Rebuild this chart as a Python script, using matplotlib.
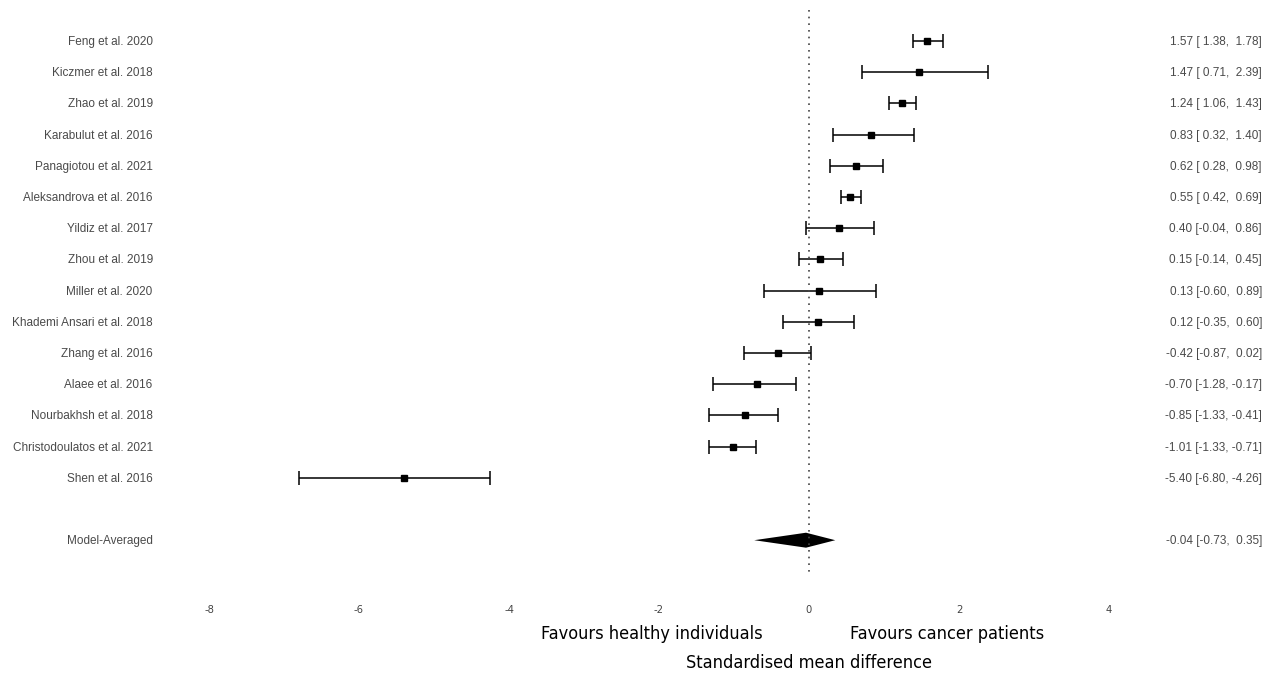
import matplotlib.pyplot as plt
import matplotlib.transforms as mtransforms
import numpy as np

# study-level estimates (standardised mean difference, 95% CI)
studies = ['Feng et al. 2020', 'Kiczmer et al. 2018', 'Zhao et al. 2019',
           'Karabulut et al. 2016', 'Panagiotou et al. 2021', 'Aleksandrova et al. 2016',
           'Yildiz et al. 2017', 'Zhou et al. 2019', 'Miller et al. 2020',
           'Khademi Ansari et al. 2018', 'Zhang et al. 2016', 'Alaee et al. 2016',
           'Nourbakhsh et al. 2018', 'Christodoulatos et al. 2021', 'Shen et al. 2016']
est = [1.57, 1.47, 1.24, 0.83, 0.62, 0.55, 0.40, 0.15, 0.13, 0.12, -0.42, -0.70, -0.85, -1.01, -5.40]
lo = [1.38, 0.71, 1.06, 0.32, 0.28, 0.42, -0.04, -0.14, -0.60, -0.35, -0.87, -1.28, -1.33, -1.33, -6.80]
hi = [1.78, 2.39, 1.43, 1.40, 0.98, 0.69, 0.86, 0.45, 0.89, 0.60, 0.02, -0.17, -0.41, -0.71, -4.26]

pooled_label = 'Model-Averaged'
pooled_est, pooled_lo, pooled_hi = -0.04, -0.73, 0.35

xticks = [-8, -6, -4, -2, 0, 2, 4]

fig = plt.figure(figsize=(12.75, 6.75), dpi=100)
ax = fig.add_axes([0, 80 / 675, 1, 595 / 675])

est = np.array(est)
lo = np.array(lo)
hi = np.array(hi)
rows = np.arange(len(studies))
pooled_row = len(studies) + 1

ax.errorbar(est, rows, xerr=[est - lo, hi - est], fmt='s', color='black',
            ms=4.3, lw=1.1, capsize=5, capthick=1.1, elinewidth=1.1)

# pooled diamond
h = 0.24
ax.fill([pooled_lo, pooled_est, pooled_hi, pooled_est],
        [pooled_row, pooled_row - h, pooled_row, pooled_row + h],
        color='black', lw=0)

ax.vlines(0, -1.0, 17.05, colors='#444444', linestyles=(0, (1, 3)), lw=1.2)

lab_color = '#4a4a4a'
lab_font = dict(fontsize=8.5, family='Liberation Sans', color=lab_color, va='center')
for i, name in enumerate(studies):
    ax.text(-8.75, i + 0.03, name, ha='right', **lab_font)
    ax.text(6.04, i + 0.03, f'{est[i]:.2f} [{lo[i]:5.2f}, {hi[i]:5.2f}]',
            ha='right', **lab_font)
ax.text(-8.75, pooled_row + 0.03, pooled_label, ha='right', **lab_font)
ax.text(6.04, pooled_row + 0.03,
        f'{pooled_est:.2f} [{pooled_lo:5.2f}, {pooled_hi:5.2f}]', ha='right', **lab_font)

ax.set_xlim(-809 / 75, (1275 - 809) / 75)
ax.set_ylim(595 / 31.2 - 41 / 31.2, -41 / 31.2)
ax.set_xticks(xticks)
ax.set_xticklabels([str(t) for t in xticks])
ax.set_yticks([])
ax.tick_params(axis='x', length=0, pad=7, labelsize=8, labelcolor='#444444')
for lbl in ax.get_xticklabels():
    lbl.set_fontstretch('condensed')
for s in ax.spines.values():
    s.set_visible(False)

trans = mtransforms.blended_transform_factory(ax.transData, fig.transFigure)
ax.text(-2.1, 1 - 634 / 675, 'Favours healthy individuals', transform=trans,
        ha='center', va='center', fontsize=13, fontstretch='condensed', color='black')
ax.text(1.84, 1 - 634 / 675, 'Favours cancer patients', transform=trans,
        ha='center', va='center', fontsize=13, fontstretch='condensed', color='black')
ax.text(0.0, 1 - 663 / 675, 'Standardised mean difference', transform=trans,
        ha='center', va='center', fontsize=13, fontstretch='condensed', color='black')

fig.savefig('out.png', dpi=100)
